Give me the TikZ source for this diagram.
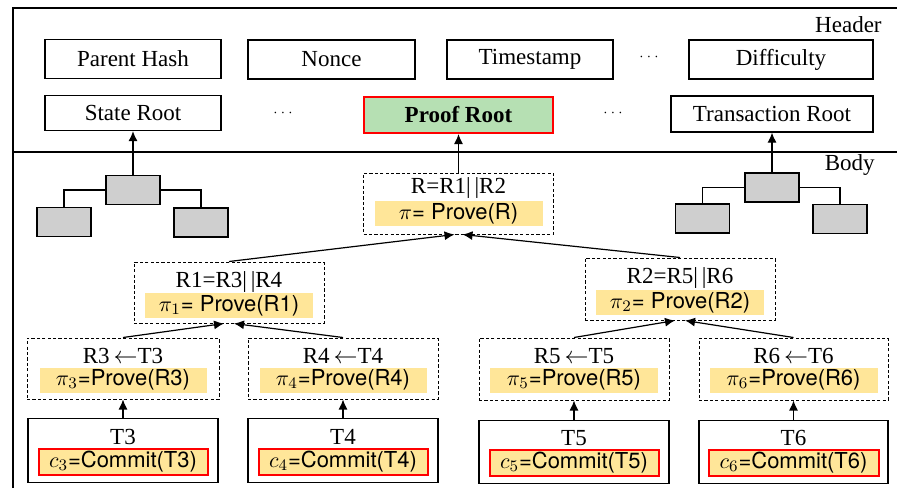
\documentclass[tikz,border=0pt]{standalone}
\usepackage{fontspec}
\setmainfont{Liberation Serif}
\setsansfont{TeX Gyre Heros}
\usepackage{tikz}
\usetikzlibrary{arrows.meta, positioning}
\definecolor{bandyellow}{HTML}{FFE699}
\definecolor{rootgreen}{HTML}{B6E0B3}
\definecolor{treegray}{HTML}{CFCFCF}
\tikzstyle{arrow} = [->, >={Latex[length=5pt,width=4.5pt]}, line width=0.6pt]
\tikzstyle{field} = [draw, rectangle, line width=0.6pt, inner sep=2pt, minimum height=19.5pt, font=\fontsize{11.5}{13}\selectfont]
\tikzstyle{proof} = [draw, dash pattern=on 1.6pt off 1.1pt, line width=0.5pt, minimum width=95pt, minimum height=30.5pt]
\tikzstyle{txbox} = [draw, rectangle, line width=0.6pt, minimum width=95pt, minimum height=32pt]
\tikzstyle{boxtitle} = [inner sep=0, font=\fontsize{11.5}{13}\selectfont]
\tikzstyle{band} = [fill=bandyellow, inner sep=0, minimum width=84pt, minimum height=12.5pt, font=\fontsize{11}{13}\selectfont\sffamily]
\tikzstyle{commit} = [band, draw=red, line width=1pt, minimum width=84.5pt, minimum height=13pt]
\tikzstyle{leaf} = [draw, fill=treegray, line width=0.6pt, minimum width=27pt, minimum height=14.5pt]
\tikzstyle{ellipsis} = [inner sep=0, font=\scriptsize]

\begin{document}
\begin{tikzpicture}[x=0.5pt, y=-0.5pt]
    \useasboundingbox (0,0) rectangle (897,488);

    % block frame
    \draw[line width=0.6pt] (13,488) -- (13,8) -- (897,8);
    \draw[line width=0.6pt] (13,152) -- (897,152);
    \node[boxtitle, anchor=east] (header) at (882,25) {Header};
    \node[boxtitle, anchor=east] (body) at (875,165) {Body};

    % header fields
    \node[field, minimum width=88pt] (parentHash) at (133,59) {Parent Hash};
    \node[field, minimum width=83.5pt] (nonce) at (331.5,59.5) {Nonce};
    \node[field, minimum width=83pt] (timestamp) at (530,59.5) {Timestamp};
    \node[ellipsis] (dotsA) at (649,57) {$\cdots$};
    \node[field, minimum width=92pt] (difficulty) at (781,59.5) {Difficulty};
    \node[field, minimum width=88pt, minimum height=17.5pt] (stateRoot) at (133,113) {State Root};
    \node[ellipsis] (dotsB) at (283,113) {$\cdots$};
    \node[field, minimum width=94.5pt, minimum height=18pt, fill=rootgreen, draw=red, line width=1pt, font=\fontsize{11.5}{13}\selectfont\bfseries] (proofRoot) at (458.5,115) {Proof Root};
    \node[ellipsis] (dotsC) at (613,113) {$\cdots$};
    \node[field, minimum width=101pt, minimum height=18pt] (txRoot) at (772,114) {Transaction Root};

    % state tree and transaction tree
    \node[leaf] (stateTop) at (133,190) {};
    \node[leaf] (stateLeft) at (64,222) {};
    \node[leaf] (stateRight) at (201,222.5) {};
    \node[leaf] (txTop) at (772,187.5) {};
    \node[leaf] (txLeft) at (702.5,218.5) {};
    \node[leaf] (txRight) at (840,219) {};
    \draw[line width=0.6pt] (stateTop.west) -| (stateLeft.north);
    \draw[line width=0.6pt] (stateTop.east) -| (stateRight.north);
    \draw[line width=0.6pt] (txTop.west) -| (txLeft.north);
    \draw[line width=0.6pt] (txTop.east) -| (txRight.north);
    \draw[arrow] (stateTop.north) -- (stateRoot.south);
    \draw[arrow] (txTop.north) -- (txRoot.south);

    % proof tree
    \node[proof] (r) at (458.5,203.5) {};
    \node[boxtitle] (rTitle) at ([yshift=8pt]r.center) {R=R1|\,|R2};
    \node[band] (rBand) at ([yshift=-5pt]r.center) {$\pi$= Prove(R)};
    \node[proof] (r1) at (229,292.5) {};
    \node[boxtitle] (r1Title) at ([yshift=5.5pt]r1.center) {R1=R3|\,|R4};
    \node[band] (r1Band) at ([yshift=-6.5pt]r1.center) {$\pi_1$= Prove(R1)};
    \node[proof, minimum height=31pt] (r2) at (680,289) {};
    \node[boxtitle] (r2Title) at ([yshift=5.5pt]r2.center) {R2=R5|\,|R6};
    \node[band] (r2Band) at ([yshift=-6.75pt]r2.center) {$\pi_2$= Prove(R2)};

    \node[proof, minimum width=96pt] (r3) at (123,368.5) {};
    \node[boxtitle] (r3Title) at ([yshift=6.25pt]r3.center) {R3\,$\leftarrow$T3};
    \node[band, minimum width=83.5pt] (r3Band) at ([yshift=-5.75pt]r3.center) {$\pi_3$=Prove(R3)};
    \node[proof] (r4) at (343,368.5) {};
    \node[boxtitle] (r4Title) at ([yshift=6.25pt]r4.center) {R4\,$\leftarrow$T4};
    \node[band, minimum width=83.5pt] (r4Band) at ([yshift=-5.75pt]r4.center) {$\pi_4$=Prove(R4)};
    \node[proof, minimum height=31pt] (r5) at (574,369) {};
    \node[boxtitle] (r5Title) at ([yshift=6.5pt]r5.center) {R5\,$\leftarrow$T5};
    \node[band] (r5Band) at ([yshift=-5.5pt]r5.center) {$\pi_5$=Prove(R5)};
    \node[proof, minimum width=94.5pt, minimum height=31pt] (r6) at (793.5,369) {};
    \node[boxtitle] (r6Title) at ([yshift=6.5pt]r6.center) {R6\,$\leftarrow$T6};
    \node[band] (r6Band) at ([yshift=-5.5pt]r6.center) {$\pi_6$=Prove(R6)};

    % transactions
    \node[txbox, below=9.25pt of r3] (t3) {};
    \node[boxtitle] (t3Title) at ([yshift=7pt]t3.center) {T3};
    \node[commit] (t3Commit) at ([yshift=-5.5pt]t3.center) {$c_3$=Commit(T3)};
    \node[txbox, below=9.25pt of r4] (t4) {};
    \node[boxtitle] (t4Title) at ([yshift=7pt]t4.center) {T4};
    \node[commit] (t4Commit) at ([yshift=-5.5pt]t4.center) {$c_4$=Commit(T4)};
    \node[txbox, below=9.75pt of r5, minimum height=31.5pt] (t5) {};
    \node[boxtitle] (t5Title) at ([yshift=7pt]t5.center) {T5};
    \node[commit] (t5Commit) at ([yshift=-5.25pt]t5.center) {$c_5$=Commit(T5)};
    \node[txbox, below=9.75pt of r6, minimum width=94.5pt, minimum height=31.5pt] (t6) {};
    \node[boxtitle] (t6Title) at ([yshift=7pt]t6.center) {T6};
    \node[commit, minimum width=85pt] (t6Commit) at ([yshift=-5.25pt]t6.center) {$c_6$=Commit(T6)};

    \path[arrow] (r.north) edge (proofRoot.south);
    \path[arrow] (r1.north) edge ([xshift=-2pt]r.south);
    \path[arrow] (r2.north) edge ([xshift=2pt]r.south);
    \path[arrow] (r3.north) edge ([xshift=-2.5pt]r1.south);
    \path[arrow] (r4.north) edge ([xshift=2.5pt]r1.south);
    \path[arrow] (r5.north) edge ([xshift=-2.5pt]r2.south);
    \path[arrow] (r6.north) edge ([xshift=2.5pt]r2.south);
    \path[arrow] (t3.north) edge (r3.south);
    \path[arrow] (t4.north) edge (r4.south);
    \path[arrow] (t5.north) edge (r5.south);
    \path[arrow] (t6.north) edge (r6.south);
\end{tikzpicture}
\end{document}
